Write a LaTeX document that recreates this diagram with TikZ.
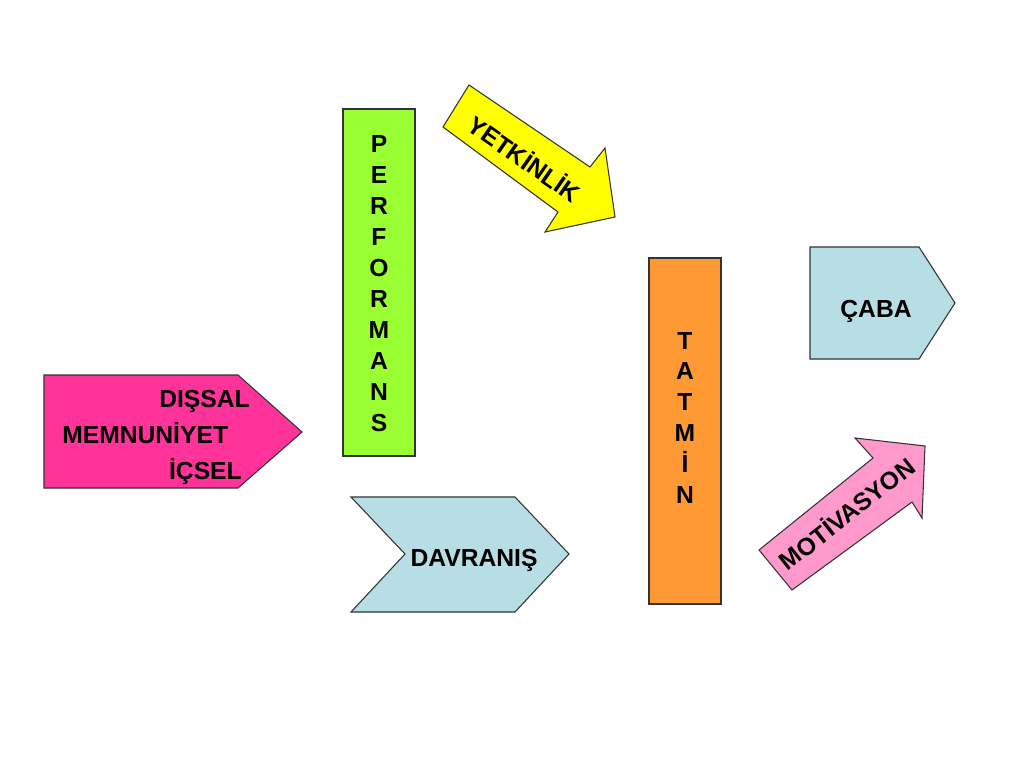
\documentclass[tikz,border=0pt]{standalone}
\usepackage{fontspec}
\setmainfont{Liberation Sans}
\definecolor{hotpink}{HTML}{FF3399}
\definecolor{limegreen}{HTML}{99FF33}
\definecolor{orangebox}{HTML}{FF9933}
\definecolor{paleblue}{HTML}{B7DEE4}
\definecolor{yellowarr}{HTML}{FFFF00}
\definecolor{pinkarr}{HTML}{FF99CC}
\definecolor{edge}{HTML}{333333}
\tikzset{
  shapeline/.style={draw=edge, line width=0.8pt, line join=miter},
  lbl/.style={inner sep=0pt, font=\fontsize{18.5}{22}\selectfont\bfseries},
}
\begin{document}
\begin{tikzpicture}[x=0.75pt, y=-0.75pt]
\useasboundingbox[fill=white] (0,0) rectangle (1024,768);
% pink pentagon
\draw[shapeline, fill=hotpink] (44,375) -- (238,375) -- (302,432) -- (238,488) -- (44,488) -- cycle;
\node[lbl, anchor=base east] (dissal) at (250,407) {DIŞSAL};
\node[lbl, anchor=base west] (memnun) at (62,443) {MEMNUNİYET};
\node[lbl, anchor=base east] (icsel) at (242,479) {İÇSEL};
% performans
\draw[shapeline, fill=limegreen] (343,109) rectangle (415,456);
\foreach \l [count=\i from 0] in {P,E,R,F,O,R,M,A,N,S}
  \node[lbl, anchor=base] (perf\i) at (379,{143+31*\i+9}) {\l};
% davranis chevron
\draw[shapeline, fill=paleblue] (351,497) -- (515,497) -- (569,554) -- (515,612) -- (351,612) -- (405,554) -- cycle;
\node[lbl, anchor=base] (davranis) at (474,566) {DAVRANIŞ};
% yetkinlik arrow
\draw[shapeline, fill=yellowarr] (469,85) -- (590,167) -- (605,148) -- (615,217) -- (545,232) -- (558,212) -- (443,127) -- cycle;
\node[lbl, rotate=-35] (yetkinlik) at (525,158) {YETKİNLİK};
% tatmin
\draw[shapeline, fill=orangebox] (649,258) rectangle (721,604);
\foreach \l [count=\i from 0] in {T,A,T,M,İ,N}
  \node[lbl, anchor=base] (tat\i) at (685,{340+30.8*\i+9}) {\l};
% caba
\draw[shapeline, fill=paleblue] (810,247) -- (919,247) -- (955,303) -- (919,359) -- (810,359) -- cycle;
\node[lbl, anchor=base] (caba) at (876,317) {ÇABA};
% motivasyon arrow
\draw[shapeline, fill=pinkarr] (759,550) -- (873,458) -- (855,438) -- (925,446) -- (922,518) -- (912,502) -- (792,590) -- cycle;
\node[lbl, rotate=38] (motivasyon) at (846,513) {MOTİVASYON};
\end{tikzpicture}
\end{document}
